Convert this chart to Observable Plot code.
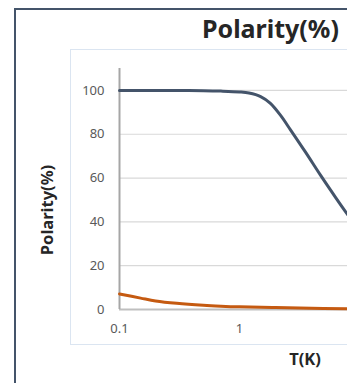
<!DOCTYPE html>
<html>
<head>
<meta charset="utf-8">
<script src="https://cdn.jsdelivr.net/npm/d3@7"></script>
<script src="https://cdn.jsdelivr.net/npm/@observablehq/plot@0.6"></script>
<style>
  html, body { margin: 0; padding: 0; background: #fff; overflow: hidden; }
  #wrap { position: relative; width: 347px; height: 383px; overflow: hidden; font-family: "Noto Sans", sans-serif; }
  #outer { position: absolute; left: 14px; top: 8px; width: 600px; height: 500px; border-left: 2px solid #44546a; border-top: 2px solid #44546a; box-sizing: border-box; }
  #inner { position: absolute; left: 70px; top: 49px; width: 600px; height: 296px; border: 1.5px solid #dbe5f1; box-sizing: border-box; }
  #chart { position: absolute; left: 0; top: 0; width: 560px; height: 383px; }
  #chart svg { max-width: none !important; width: 560px !important; height: 383px !important; }
  .title { position: absolute; left: 202px; top: 16px; font-size: 25px; font-weight: bold; color: #262626; white-space: nowrap; line-height: 1; }
  .ylab { position: absolute; left: 47px; top: 210px; transform: translate(-50%, -50%) rotate(-90deg); font-size: 16.5px; font-weight: bold; color: #262626; white-space: nowrap; line-height: 1; }
  .xlab { position: absolute; left: 305px; top: 351px; transform: translateX(-50%); font-size: 16.5px; font-weight: bold; color: #262626; white-space: nowrap; line-height: 1; }
</style>
</head>
<body>
<div id="wrap">
  <div id="outer"></div>
  <div id="inner"></div>
  <div id="chart"></div>
  <div class="title">Polarity(%)</div>
  <div class="ylab">Polarity(%)</div>
  <div class="xlab">T(K)</div>
</div>
<script>
const xTicks = [0.1, 1];
const yTicks = [0, 20, 40, 60, 80, 100];

const blueT = [0.1, 0.2, 0.3, 0.5, 0.7, 1.0, 1.2, 1.5, 1.8, 2.2, 2.66, 3.55, 4.73, 6.31, 7.94, 10, 20, 50, 100];
const blueP = [100, 100, 100, 99.9, 99.7, 99.3, 98.8, 97.2, 94.2, 88.6, 82.0, 71.8, 61.3, 51.2, 43.4, 35.8, 18.5, 7.5, 3.7];

const orangeT = [0.1, 0.15, 0.2, 0.3, 0.5, 0.7, 1, 2, 5, 10, 20, 50, 100];
const orangeP = [7.1, 5.2, 3.9, 2.8, 1.9, 1.5, 1.2, 0.9, 0.5, 0.3, 0.15, 0.06, 0.03];

const blue = blueT.map((t, i) => ({T: t, P: blueP[i]}));
const orange = orangeT.map((t, i) => ({T: t, P: orangeP[i]}));

const chart = Plot.plot({
  width: 560,
  height: 383,
  marginLeft: 119,
  marginRight: 81,
  marginTop: 68,
  marginBottom: 74,
  style: {fontFamily: "Noto Sans, sans-serif", fontSize: "13px", color: "#595959", background: "transparent", overflow: "visible", maxWidth: "none"},
  x: {type: "log", domain: [0.1, 100], label: null},
  y: {domain: [0, 110], label: null},
  marks: [
    Plot.gridY(yTicks, {stroke: "#d9d9d9", strokeOpacity: 1, strokeWidth: 1.2}),
    Plot.axisY(yTicks, {tickSize: 0, tickPadding: 15, label: null, tickFormat: d => String(d)}),
    Plot.axisX(xTicks, {tickSize: 0, tickPadding: 14, label: null, tickFormat: d => String(d)}),
    Plot.ruleY([0], {stroke: "#bfbfbf", strokeWidth: 2}),
    Plot.ruleX([0.1], {y1: 0, y2: 110, stroke: "#a6a6a6", strokeWidth: 2}),
    Plot.line(blue, {x: "T", y: "P", stroke: "#44546a", strokeWidth: 3, curve: "catmull-rom"}),
    Plot.line(orange, {x: "T", y: "P", stroke: "#c55a11", strokeWidth: 3, curve: "catmull-rom"})
  ]
});
document.getElementById("chart").appendChild(chart);
</script>
</body>
</html>
